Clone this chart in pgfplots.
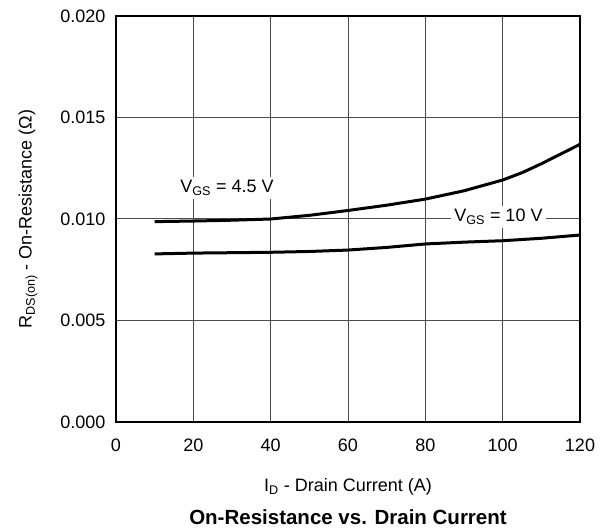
\documentclass[border=0pt]{standalone}
\usepackage{fontspec}
\setmainfont{Liberation Sans}
\usepackage{pgfplots}
\pgfplotsset{compat=1.18}
\begin{document}
\begin{tikzpicture}
\path[use as bounding box] (-116bp,-107bp) rectangle (497bp,422bp);
\begin{axis}[
  at={(0,0)}, anchor=south west,
  scale only axis, width=464bp, height=406bp,
  xmin=0, xmax=120, ymin=0, ymax=0.020,
  xtick={0,20,...,120},
  ytick={0,0.005,0.010,0.015,0.020},
  scaled y ticks=false,
  yticklabel style={/pgf/number format/.cd, fixed, fixed zerofill, precision=3, assume math mode=true},
  xticklabel style={/pgf/number format/assume math mode=true},
  ticklabel style={font=\fontsize{18bp}{21bp}\selectfont},
  major tick length=0pt,
  xtick pos=bottom, ytick pos=left,
  xticklabel shift=13bp, yticklabel shift=7bp,
  grid=major,
  major grid style={black!70, line width=1bp},
  axis line style={line width=2bp},
  xlabel={I\textsubscript{D} - Drain Current (A)},
  ylabel={R\textsubscript{DS(on)} - On-Resistance (Ω)},
  label style={font=\fontsize{18bp}{21bp}\selectfont},
  xlabel style={at={([yshift=-65bp]axis description cs:0.5,0)}, anchor=center},
  ylabel style={at={([xshift=-88bp]axis description cs:0,0.5)}, anchor=center},
]
\addplot[black, line width=3bp] coordinates {
(10,0.00987) (20,0.00990) (30,0.00994) (40,0.01000) (50,0.01018) (60,0.01042) (70,0.01068) (80,0.01098) (90,0.01139) (100,0.01192) (105,0.01228) (110,0.01272) (120,0.01368)};
\addplot[black, line width=3bp] coordinates {
(10,0.00828) (20,0.00832) (30,0.00834) (40,0.00836) (50,0.00840) (60,0.00847) (70,0.00860) (80,0.00877) (90,0.00886) (100,0.00893) (110,0.00905) (120,0.00921)};
\node[fill=white, inner sep=3bp, font=\fontsize{18bp}{21bp}\selectfont] at (axis cs:28.7,0.01153) {V\textsubscript{GS} = 4.5 V};
\node[fill=white, inner sep=3bp, font=\fontsize{18bp}{21bp}\selectfont] at (axis cs:98.9,0.0101) {V\textsubscript{GS} = 10 V};
\end{axis}
\node[font=\bfseries\fontsize{20.5bp}{24bp}\selectfont] at (232bp,-95bp) {On-Resistance vs. Drain Current};
\end{tikzpicture}
\end{document}
